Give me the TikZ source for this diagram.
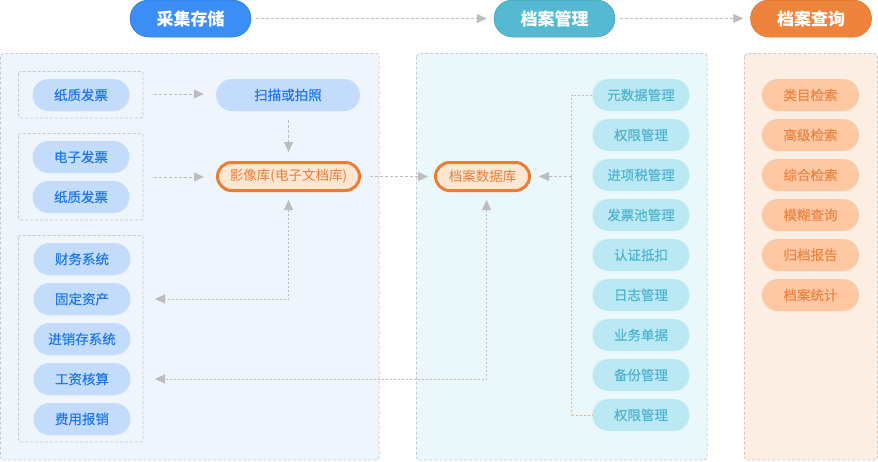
\documentclass[tikz,border=0pt]{standalone}
\usepackage{fontspec}
\setmainfont{Noto Sans CJK SC}
\newfontfamily\medfont{Noto Sans CJK SC}[FakeBold=0.35]
\usetikzlibrary{arrows.meta,calc}
\definecolor{hblue}{HTML}{3A8EF6}
\definecolor{hcyan}{HTML}{54B9D1}
\definecolor{horange}{HTML}{EE843C}
\definecolor{pone}{HTML}{EFF5FD}
\definecolor{ptwo}{HTML}{EAF8FC}
\definecolor{pthree}{HTML}{FDEEE3}
\definecolor{bfill}{HTML}{C4DCFB}
\definecolor{btext}{HTML}{1F78EA}
\definecolor{cfill}{HTML}{BBE9F3}
\definecolor{ctext}{HTML}{4DB5CF}
\definecolor{ofill}{HTML}{FEC8A2}
\definecolor{otext}{HTML}{EC8442}
\definecolor{dbfill}{HTML}{FDE6D2}
\definecolor{dborder}{HTML}{EC7D35}
\definecolor{lgray}{HTML}{C8C8C8}
\definecolor{agray}{HTML}{BDBDBD}
\tikzset{
  head/.style={rounded corners=18.5pt, minimum width=121pt, minimum height=37pt, inner sep=0pt, text=white, font=\fontsize{17}{17}\selectfont\bfseries},
  panel/.style={draw=lgray, line width=0.8pt, dash pattern=on 3pt off 2pt, rounded corners=3pt},
  grp/.style={draw=lgray, line width=0.8pt, dash pattern=on 3pt off 2pt, rounded corners=2pt},
  pill/.style={rounded corners=16pt, minimum width=97pt, minimum height=32pt, inner sep=0pt, font=\fontsize{13.5}{13.5}\medfont},
  bpill/.style={pill, fill=bfill, text=btext},
  cpill/.style={pill, fill=cfill, text=ctext},
  opill/.style={pill, fill=ofill, text=otext},
  dbnode/.style={rounded corners=14pt, draw=dborder, line width=3pt, fill=dbfill, text=dborder, minimum height=28pt, inner sep=0pt, font=\fontsize{13.5}{13.5}\selectfont},
  conn/.style={draw=agray, line width=0.8pt, dash pattern=on 3pt off 2pt},
  dconn/.style={draw=agray, line width=1pt, dash pattern=on 2pt off 2pt},
  tip/.style={-{Triangle[length=10pt,width=9pt,fill=agray,color=agray]}},
  tips/.style={{Triangle[length=10pt,width=9pt,fill=agray,color=agray]}-{Triangle[length=10pt,width=9pt,fill=agray,color=agray]}},
}
\begin{document}
\begin{tikzpicture}[x=1pt,y=-1pt]
\useasboundingbox (0,0) rectangle (878,461);
% panels
\draw[panel, fill=pone] (0.5,53.5) rectangle (379,460);
\draw[panel, fill=ptwo] (416.5,53.5) rectangle (707,460);
\draw[panel, fill=pthree] (744.5,53.5) rectangle (877.5,460);
% groups
\draw[grp] (18.5,71.5) rectangle (143,118);
\draw[grp] (18.5,133.5) rectangle (143,220);
\draw[grp] (18.5,235.5) rectangle (143,442);
\coordinate (g1e) at (143,94);
\coordinate (g2e) at (143,177);
\coordinate (g3e) at (143,339);
% headers
\node[head, fill=hblue, draw=hblue!85!black, line width=0.5pt] (h1) at (190.5,18.5) {采集存储};
\node[head, fill=hcyan, draw=hcyan!85!black, line width=0.5pt] (h2) at (554.5,18.5) {档案管理};
\node[head, fill=horange, draw=horange!85!black, line width=0.5pt] (h3) at (811,18.5) {档案查询};
\draw[conn, tip, shorten <=5pt, shorten >=7pt] (h1.east) -- (h2.west);
\draw[conn, tip, shorten <=5pt, shorten >=7pt] (h2.east) -- (h3.west);
% panel 1 pills
\node[bpill] (a1) at (81,95) {纸质发票};
\node[bpill] (a2) at (81,157) {电子发票};
\node[bpill] (a3) at (81,197) {纸质发票};
\node[bpill] (s1) at (82,259) {财务系统};
\node[bpill] (s2) at (82,299) {固定资产};
\node[bpill] (s3) at (82,339) {进销存系统};
\node[bpill] (s4) at (82,379) {工资核算};
\node[bpill] (s5) at (82,419) {费用报销};
\node[bpill, minimum width=144pt] (scan) at (288,95) {扫描或拍照};
\node[dbnode, minimum width=142pt] (img) at (288.5,176.5) {影像库(电子文档库)};
\node[dbnode, minimum width=94pt] (db) at (482.5,176.5) {档案数据库};
% panel 2 pills
\foreach \t [count=\i] in {元数据管理,权限管理,进项税管理,发票池管理,认证抵扣,日志管理,业务单据,备份管理,权限管理}{
  \node[cpill] (m\i) at (641,55+40*\i) {\t};
}
% panel 3 pills
\foreach \t [count=\i] in {类目检索,高级检索,综合检索,模糊查询,归档报告,档案统计}{
  \node[opill] (q\i) at (810.5,55+40*\i) {\t};
}
% connectors
\draw[conn, tip, shorten <=11pt, shorten >=12pt] (g1e) -- (g1e -| scan.west);
\draw[conn, tip, shorten <=11pt, shorten >=12pt] (g2e) -- (img.west |- g2e);
\draw[conn, tip, shorten <=9pt, shorten >=9pt] (scan.south -| img.north) -- (img.north);
\draw[conn, tip, shorten <=9pt, shorten >=6pt] (img.east) -- (db.west);
\draw[dconn, tips, shorten <=8pt, shorten >=12pt] (img.south) -- (img.south |- s2) -- (g3e |- s2);
\coordinate (dbs) at ($(db.south)+(4,0)$);
\draw[dconn, tips, shorten <=8pt, shorten >=12pt] (dbs) -- (dbs |- s4) -- (g3e |- s4);
\coordinate (br) at (571.5,176.5);
\draw[dconn, line width=0.8pt] (m1.west) -- (br |- m1) -- (br |- m9);
\draw[dconn, line width=0.8pt, draw=horange!70] (br |- m9) -- (m9.west);
\draw[conn, tip, shorten >=8pt] (br) -- (db.east);
\end{tikzpicture}
\end{document}
